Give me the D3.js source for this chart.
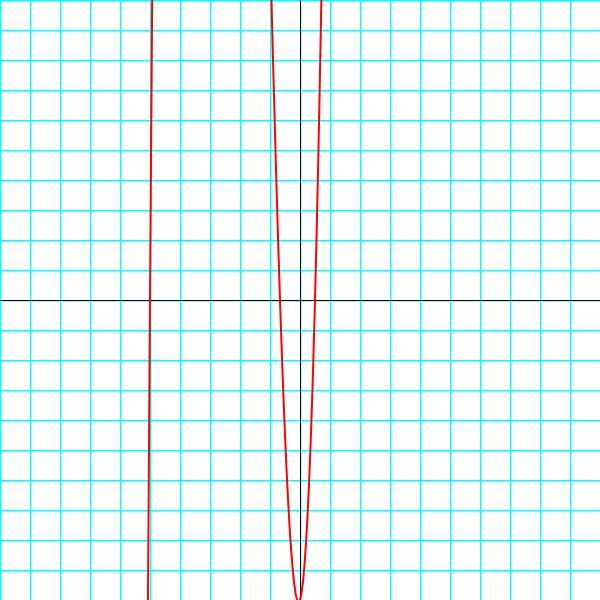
<!DOCTYPE html>
<html>
<head>
<meta charset="utf-8">
<script src="https://cdn.jsdelivr.net/npm/d3@7"></script>
<style>
html, body { margin: 0; padding: 0; background: #ffffff; }
svg { display: block; }
</style>
</head>
<body>
<svg id="chart" width="600" height="600"></svg>
<script>
// Axis domain and grid ticks
const xDomain = [-10, 10];
const yDomain = [-10, 10];
const gridTicks = d3.range(-10, 10, 1); // -10 .. 9

// Curve sample points (left branch and middle branch)
const leftBranchX = [-5.1, -5.0, -4.9];
const leftBranchY = [-14.896, 0, 13.716];

const midBranchX = [-1.0, -0.95, -0.9, -0.85, -0.8, -0.75, -0.7, -0.65, -0.6, -0.55, -0.5,
  -0.45, -0.4, -0.35, -0.3, -0.25, -0.2, -0.15, -0.1, -0.05, 0, 0.05, 0.1, 0.15, 0.2,
  0.25, 0.3, 0.35, 0.4, 0.45, 0.5, 0.55, 0.6, 0.65, 0.7, 0.75];
const midBranchY = [12, 9.983, 8.036, 6.163, 4.368, 2.656, 1.032, -0.500, -1.936, -3.271, -4.5,
  -5.619, -6.624, -7.510, -8.272, -8.906, -9.408, -9.773, -9.996, -10.073, -10, -9.772, -9.384, -8.832, -8.112,
  -7.219, -6.148, -4.895, -3.456, -1.826, 0, 2.026, 4.256, 6.695, 9.348, 12.219];

const W = 600, H = 600;
const svg = d3.select("#chart");
const x = d3.scaleLinear().domain(xDomain).range([0, W]);
const y = d3.scaleLinear().domain(yDomain).range([H, 0]);

svg.append("rect").attr("width", W).attr("height", H).attr("fill", "#ffffff");

const grid = svg.append("g").attr("stroke", "#00ffff").attr("stroke-width", 1.4);
grid.selectAll("line.v").data(gridTicks).join("line")
  .attr("class", "v")
  .attr("x1", d => x(d) + 0.7).attr("x2", d => x(d) + 0.7)
  .attr("y1", 0).attr("y2", H);
// horizontal: lines from top (y=10) down
grid.selectAll("line.h").data(gridTicks.map(d => -d)).join("line")
  .attr("class", "h")
  .attr("y1", d => y(d) + 0.7).attr("y2", d => y(d) + 0.7)
  .attr("x1", 0).attr("x2", W);

// axes
svg.append("line").attr("x1", 0).attr("x2", W).attr("y1", y(0) + 0.5).attr("y2", y(0) + 0.5)
  .attr("stroke", "#000000").attr("stroke-width", 1);
svg.append("line").attr("y1", 0).attr("y2", H).attr("x1", x(0) + 0.5).attr("x2", x(0) + 0.5)
  .attr("stroke", "#000000").attr("stroke-width", 1);

svg.append("clipPath").attr("id", "clip").append("rect").attr("width", W).attr("height", H);

const line = d3.line().x(d => x(d[0])).y(d => y(d[1]));
const series = [
  d3.zip(leftBranchX, leftBranchY),
  d3.zip(midBranchX, midBranchY)
];
svg.append("g").attr("clip-path", "url(#clip)")
  .selectAll("path").data(series).join("path")
  .attr("d", line)
  .attr("fill", "none")
  .attr("stroke", "#ff0000")
  .attr("stroke-width", 2);
</script>
</body>
</html>
